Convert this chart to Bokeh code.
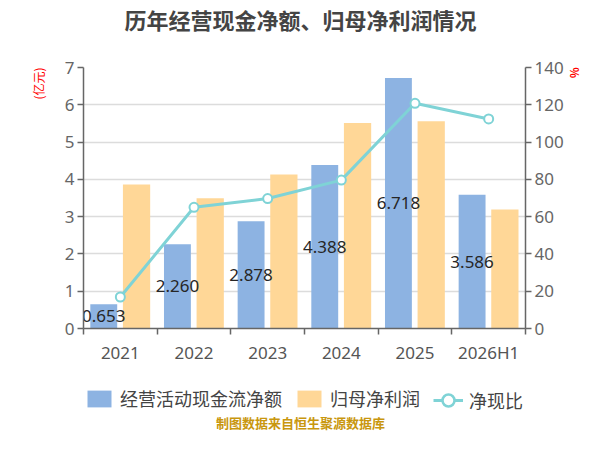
from bokeh.plotting import figure
from bokeh.layouts import column
from bokeh.models import (Range1d, LinearAxis, FixedTicker, Legend,
                          LegendItem, ColumnDataSource, Title, Label)
from bokeh.core.properties import value
from bokeh.embed import file_html
from bokeh.resources import INLINE

categories = ["2021", "2022", "2023", "2024", "2025", "2026H1"]
cash_flow = [0.653, 2.260, 2.878, 4.388, 6.718, 3.586]
net_profit = [3.86, 3.49, 4.13, 5.51, 5.56, 3.19]
cash_ratio = [16.9, 65.0, 69.7, 79.6, 120.8, 112.4]
left_ticks = [0, 1, 2, 3, 4, 5, 6, 7]
right_ticks = [0, 20, 40, 60, 80, 100, 120, 140]

title_text = "历年经营现金净额、归母净利润情况"
footer_text = "制图数据来自恒生聚源数据库"
left_unit = "(亿元)"
right_unit = "%"
names = ["经营活动现金流净额", "归母净利润", "净现比"]

CJK = "Noto Sans CJK SC"
NUM = "Noto Sans"
BLUE = "#8db3e2"
ORANGE = "#ffd797"
TEAL = "#7fd3d6"
W = 584

n = len(categories)
centers = [i + 0.5 for i in range(n)]
src = ColumnDataSource(dict(
    x=centers,
    xb=[c - 0.225 for c in centers],
    xo=[c + 0.22 for c in centers],
    cash=cash_flow,
    cash_mid=[v / 2 for v in cash_flow],
    cash_lbl=["%.3f" % v for v in cash_flow],
    profit=net_profit,
    ratio=cash_ratio,
))

# ---------------- title strip (frame aligned with main chart) ----------------
pt = figure(width=W, height=40, output_backend="svg", toolbar_location=None,
            x_axis_type=None, y_axis_type=None, min_border=0,
            x_range=Range1d(0, 1), y_range=Range1d(0, 1))
pt.outline_line_color = None
pt.add_layout(Label(x=217, y=22, x_units="screen", y_units="screen",
                    text=title_text, text_align="center", text_baseline="middle",
                    text_font=CJK, text_font_size="22px", text_font_style="bold",
                    text_color="#444444"))

# ---------------- main chart ----------------
p = figure(width=W, height=326, output_backend="svg", toolbar_location=None,
           x_range=Range1d(0, n), y_range=Range1d(0, 7),
           min_border_left=83, min_border_right=51, min_border_top=27,
           min_border_bottom=36, title=None)
p.outline_line_color = None
p.extra_y_ranges = {"pct": Range1d(0, 140)}

p.xgrid.visible = False
p.ygrid.grid_line_color = "#dcdcdc"
p.ygrid.grid_line_width = 1.5
p.ygrid.ticker = FixedTicker(ticks=left_ticks)


def style_y(ax):
    ax.axis_line_color = "#666666"
    ax.axis_line_width = 1.5
    ax.major_tick_line_color = "#666666"
    ax.major_tick_line_width = 1.5
    ax.major_tick_out = 6
    ax.major_tick_in = 0
    ax.minor_tick_line_color = None
    ax.major_label_text_color = "#666666"
    ax.major_label_text_font = NUM
    ax.major_label_text_font_size = "17px"
    ax.major_label_standoff = 3


ya = p.yaxis[0]
ya.ticker = FixedTicker(ticks=left_ticks)
style_y(ya)
ra = LinearAxis(y_range_name="pct", ticker=FixedTicker(ticks=right_ticks))
style_y(ra)
p.add_layout(ra, "right")

xa = p.xaxis[0]
xa.ticker = FixedTicker(ticks=centers, minor_ticks=list(range(n + 1)))
xa.major_label_overrides = {c: categories[i] for i, c in enumerate(centers)}
xa.major_tick_line_color = None
xa.minor_tick_line_color = "#666666"
xa.minor_tick_line_width = 1.5
xa.minor_tick_out = 6
xa.minor_tick_in = 0
xa.axis_line_color = "#666666"
xa.axis_line_width = 1.5
xa.major_label_text_color = "#555555"
xa.major_label_text_font = NUM
xa.major_label_text_font_size = "17px"
xa.major_label_standoff = 6

p.vbar(x="xb", top="cash", width=0.365, bottom=0, source=src,
       fill_color=BLUE, line_color=None)
p.vbar(x="xo", top="profit", width=0.37, bottom=0, source=src,
       fill_color=ORANGE, line_color=None)

p.text(x="xb", y="cash_mid", text="cash_lbl", source=src,
       text_align="center", text_baseline="middle",
       text_color="#262626", text_font=value(NUM), text_font_size="17px")

p.line(x="x", y="ratio", source=src, y_range_name="pct",
       line_color=TEAL, line_width=3)
p.scatter(x="x", y="ratio", source=src, y_range_name="pct",
          size=9, fill_color="white", line_color=TEAL, line_width=2)

p.add_layout(Title(text=left_unit, align="right", standoff=30,
                   text_font=CJK, text_font_size="12px", text_font_style="normal",
                   text_color="#ff0000"), "left")
p.add_layout(Title(text=right_unit, align="left", standoff=0,
                   text_font=CJK, text_font_size="11px", text_font_style="bold",
                   text_color="#ff0000"), "right")

# ---------------- legend + source strip ----------------
pb = figure(width=W, height=68, output_backend="svg", toolbar_location=None,
            x_axis_type=None, y_axis_type=None, min_border=0,
            x_range=Range1d(0, 1), y_range=Range1d(0, 1))
pb.outline_line_color = None
# hidden proxies of the chart's series, used only for the legend swatches
lb = pb.vbar(x="xb", top="cash", width=0.365, source=src,
             fill_color=BLUE, line_color=None, visible=False)
lo = pb.vbar(x="xo", top="profit", width=0.37, source=src,
             fill_color=ORANGE, line_color=None, visible=False)
ll = pb.line(x="x", y="ratio", source=src, line_color=TEAL, line_width=3,
             visible=False)
lm = pb.scatter(x="x", y="ratio", source=src, fill_color="white",
                line_color=TEAL, line_width=2.5, visible=False)


def style_legend(lg, gh):
    lg.glyph_width = 30
    lg.glyph_height = gh
    lg.label_standoff = 6
    lg.spacing = 12
    lg.padding = 0
    lg.margin = 0
    lg.border_line_color = None
    lg.background_fill_alpha = 0
    lg.inactive_fill_alpha = 0
    lg.label_text_font = CJK
    lg.label_text_font_size = "18px"
    lg.label_text_color = "#444444"


leg_a = Legend(items=[LegendItem(label=names[0], renderers=[lb]),
                      LegendItem(label=names[1], renderers=[lo])],
               orientation="horizontal", location=(1, 23))
style_legend(leg_a, 21)
leg_b = Legend(items=[LegendItem(label=names[2], renderers=[ll, lm])],
               orientation="horizontal", location=(350, 13))
style_legend(leg_b, 42)
pb.add_layout(leg_a)
pb.add_layout(leg_b)

pb.add_layout(Label(x=217, y=12, x_units="screen", y_units="screen",
                    text=footer_text, text_align="center", text_baseline="middle",
                    text_font=CJK, text_font_size="13px", text_font_style="bold",
                    text_color="#c9970e"))

layout = column(pt, p, pb, spacing=0)
open("out.html", "w").write(file_html(layout, INLINE))
